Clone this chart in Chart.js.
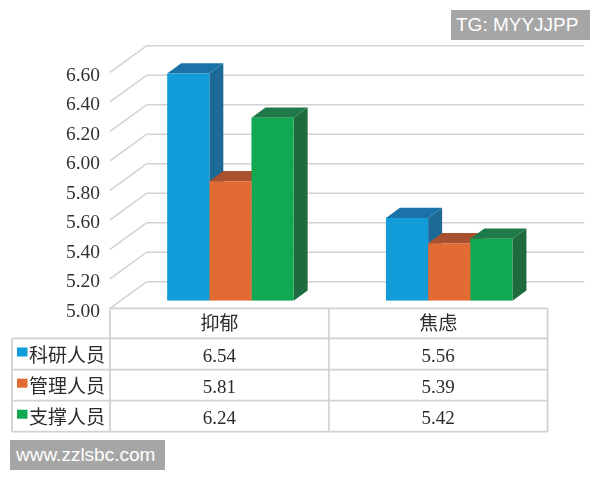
<!DOCTYPE html>
<html>
<head>
<meta charset="utf-8">
<script src="https://cdn.jsdelivr.net/npm/chart.js@4"></script>
<style>
html, body { margin: 0; padding: 0; background: #fff; }
#wrap { position: relative; width: 600px; height: 480px; overflow: hidden; }
.mark { position: absolute; height: 30px; line-height: 30px; background: #a6a6a6; color: #fff;
  font-family: "Liberation Sans", sans-serif; font-size: 19px; box-sizing: border-box; white-space: nowrap; }
</style>
</head>
<body>
<div id="wrap">
  <canvas id="myChart" width="600" height="480"></canvas>
  <div class="mark" style="left:451px;top:10px;width:139px;padding-left:5px">TG: MYYJJPP</div>
  <div class="mark" style="left:10px;top:440px;width:155px;padding-left:6px">www.zzlsbc.com</div>
</div>
<script>
var categories = ["抑郁", "焦虑"];
var seriesNames = ["科研人员", "管理人员", "支撑人员"];
var keyan = [6.54, 5.56];
var guanli = [5.81, 5.39];
var zhicheng = [6.24, 5.42];
var yTicks = [5.0, 5.2, 5.4, 5.6, 5.8, 6.0, 6.2, 6.4, 6.6];

var frontColors = ["#129cd9", "#e26a33", "#10a850"];
var topColors = ["#1a72a8", "#a9502f", "#1e7a48"];
var sideColors = ["#1d6a96", "#a9502f", "#1d6b3f"];

var FONT = '"Liberation Serif", "Noto Sans CJK SC", serif';
var LINE = "#d2d2d2";
// 3d offsets, relative to the scale pixels
var floorFront = -3.3;
var barShift = { x: 11, y: -10.9 };
var barDepth = { x: 14, y: -10.3 };
var wallBack = { x: 36.7, y: -29.9 };

var wallPlugin = {
    id: "wall",
    beforeDatasetsDraw: function (chart) {
        var c = chart.ctx, a = chart.chartArea, y = chart.scales.y;
        c.save();
        c.strokeStyle = LINE;
        c.lineWidth = 1.6;
        yTicks.forEach(function (v) {
            var py = y.getPixelForValue(v);
            c.beginPath();
            c.moveTo(a.left, py + floorFront);
            c.lineTo(a.left + wallBack.x, py + wallBack.y);
            c.lineTo(a.right + wallBack.x, py + wallBack.y);
            c.stroke();
        });
        c.restore();
    }
};

// side and top faces go first, blue to green, the library then paints the fronts over them
var box3dPlugin = {
    id: "box3d",
    beforeDatasetsDraw: function (chart) {
        var c = chart.ctx;
        var dx = barDepth.x, dy = barDepth.y;
        c.save();
        c.translate(barShift.x, barShift.y);
        chart.data.datasets.forEach(function (ds, i) {
            chart.getDatasetMeta(i).data.forEach(function (bar) {
                var p = bar.getProps(["x", "y", "base", "width"], true);
                var l = p.x - p.width / 2, r = p.x + p.width / 2;
                c.fillStyle = sideColors[i];
                c.beginPath();
                c.moveTo(r, p.y);
                c.lineTo(r + dx, p.y + dy);
                c.lineTo(r + dx, p.base + dy);
                c.lineTo(r, p.base);
                c.closePath();
                c.fill();
                c.fillStyle = topColors[i];
                c.beginPath();
                c.moveTo(l, p.y);
                c.lineTo(l + dx, p.y + dy);
                c.lineTo(r + dx, p.y + dy);
                c.lineTo(r, p.y);
                c.closePath();
                c.fill();
            });
        });
        c.restore();
    },
    beforeDatasetDraw: function (chart) {
        chart.ctx.save();
        chart.ctx.translate(barShift.x, barShift.y);
    },
    afterDatasetDraw: function (chart) {
        chart.ctx.restore();
    }
};

var tablePlugin = {
    id: "dataTable",
    afterDraw: function (chart) {
        var c = chart.ctx, a = chart.chartArea, x = chart.scales.x;
        var top = a.bottom + floorFront;
        var rows = [338.3, 369.7, 400.7, 431.7];
        var left = 12, mid = (x.getPixelForTick(0) + x.getPixelForTick(1)) / 2;
        var series = [keyan, guanli, zhicheng];
        c.save();
        c.strokeStyle = LINE;
        c.lineWidth = 1.8;
        c.beginPath();
        c.moveTo(a.left, top); c.lineTo(a.right, top);
        rows.forEach(function (ry) { c.moveTo(left, ry); c.lineTo(a.right, ry); });
        c.moveTo(left, rows[0]); c.lineTo(left, rows[3]);
        [a.left, mid, a.right].forEach(function (vx) { c.moveTo(vx, top); c.lineTo(vx, rows[3]); });
        c.stroke();

        c.textBaseline = "middle";
        series.forEach(function (vals, r) {
            var cy = (rows[r] + rows[r + 1]) / 2;
            c.fillStyle = frontColors[r];
            c.fillRect(17, cy - 6.5, 10.5, 9);
            c.fillStyle = "#2b2b2b";
            c.font = "19px " + FONT;
            c.textAlign = "left";
            c.fillText(seriesNames[r], 29, cy + 3);
            c.textAlign = "center";
            vals.forEach(function (v, k) {
                c.fillText(v.toFixed(2), x.getPixelForTick(k), cy + 3);
            });
        });
        c.restore();
    }
};

new Chart(document.getElementById("myChart"), {
    type: "bar",
    data: {
        labels: categories,
        datasets: [
            { label: seriesNames[0], data: keyan, backgroundColor: frontColors[0] },
            { label: seriesNames[1], data: guanli, backgroundColor: frontColors[1] },
            { label: seriesNames[2], data: zhicheng, backgroundColor: frontColors[2] }
        ]
    },
    plugins: [wallPlugin, box3dPlugin, tablePlugin],
    options: {
        responsive: false,
        animation: false,
        devicePixelRatio: 1,
        layout: { autoPadding: false, padding: { top: 75.6, right: 52.4, bottom: 0, left: 0 } },
        plugins: { legend: { display: false }, tooltip: { enabled: false } },
        datasets: { bar: { base: yTicks[0], barPercentage: 1, categoryPercentage: 0.578, borderWidth: 0 } },
        scales: {
            x: {
                grid: { display: false, drawTicks: false },
                border: { display: false },
                ticks: { padding: 2, color: "#2b2b2b", font: { family: FONT, size: 19 }, maxRotation: 0 },
                afterFit: function (s) { s.height = 168.4; }
            },
            y: {
                min: 5,
                max: 6.6,
                afterBuildTicks: function (s) { s.ticks = yTicks.map(function (v) { return { value: v }; }); },
                grid: { display: false, drawTicks: false },
                border: { display: false },
                ticks: {
                    padding: 10,
                    color: "#333333",
                    font: { family: FONT, size: 19.5 },
                    callback: function (v) { return Number(v).toFixed(2); }
                },
                afterFit: function (s) { s.width = 110; }
            }
        }
    }
});
</script>
</body>
</html>
